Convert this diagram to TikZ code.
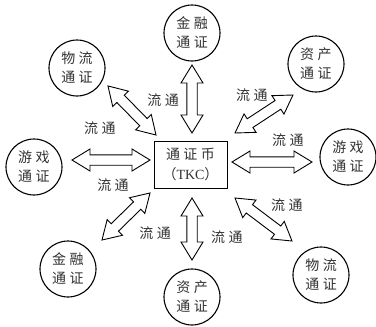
\documentclass[tikz,border=0pt]{standalone}
\usepackage{fontspec}
\setmainfont{Liberation Serif}
\newfontfamily\cjk{Noto Sans CJK SC}
\usetikzlibrary{calc}
\newcommand\zgap{\hspace{3.5pt}}
\tikzset{
  hw/.initial=11pt, sw/.initial=5.2pt, hl/.initial=18pt,
  dblarr/.style={draw=black, fill=white, line width=0.9pt, line join=miter,
    to path={
      ($(\tikztostart)!\pgfkeysvalueof{/tikz/hl}!(\tikztotarget)!\pgfkeysvalueof{/tikz/hw}!90:(\tikztotarget)$) --
      ($(\tikztostart)!\pgfkeysvalueof{/tikz/hl}!(\tikztotarget)!\pgfkeysvalueof{/tikz/sw}!90:(\tikztotarget)$) --
      ($(\tikztotarget)!\pgfkeysvalueof{/tikz/hl}!(\tikztostart)!\pgfkeysvalueof{/tikz/sw}!270:(\tikztostart)$) --
      ($(\tikztotarget)!\pgfkeysvalueof{/tikz/hl}!(\tikztostart)!\pgfkeysvalueof{/tikz/hw}!270:(\tikztostart)$) --
      (\tikztotarget) --
      ($(\tikztotarget)!\pgfkeysvalueof{/tikz/hl}!(\tikztostart)!\pgfkeysvalueof{/tikz/hw}!90:(\tikztostart)$) --
      ($(\tikztotarget)!\pgfkeysvalueof{/tikz/hl}!(\tikztostart)!\pgfkeysvalueof{/tikz/sw}!90:(\tikztostart)$) --
      ($(\tikztostart)!\pgfkeysvalueof{/tikz/hl}!(\tikztotarget)!\pgfkeysvalueof{/tikz/sw}!270:(\tikztotarget)$) --
      ($(\tikztostart)!\pgfkeysvalueof{/tikz/hl}!(\tikztotarget)!\pgfkeysvalueof{/tikz/hw}!270:(\tikztotarget)$) --
      (\tikztostart) -- cycle}},
  token/.style={circle, draw=black, line width=1.1pt, minimum size=56pt, inner sep=0pt,
    align=center, font=\cjk\fontsize{14pt}{19pt}\selectfont, text=black!80},
  coin/.style={rectangle, draw=black, line width=1pt, minimum width=73pt, minimum height=47pt,
    inner sep=0pt, align=center, font=\fontsize{14pt}{20pt}\selectfont, text=black!80},
  flow/.style={font=\cjk\fontsize{14pt}{16pt}\selectfont, text=black!80, inner sep=0pt}
}
\begin{document}
\begin{tikzpicture}[x=1pt,y=-1pt]
\useasboundingbox (0,0) rectangle (376,327);
\fill[white] (0,0) rectangle (376,327);

\node[coin] (tkc) at (190.5,164.5) {{\cjk 通\zgap{}证\zgap{}币}\\{\cjk （}TKC{\cjk ）}};

\node[token] (jrT)  at (192,33)  {金\zgap{}融\\通\zgap{}证};
\node[token] (wlTL) at (77,68)   {物\zgap{}流\\通\zgap{}证};
\node[token] (zcTR) at (316,64)  {资\zgap{}产\\通\zgap{}证};
\node[token] (yxL)  at (34,167)  {游\zgap{}戏\\通\zgap{}证};
\node[token] (yxR)  at (348,157) {游\zgap{}戏\\通\zgap{}证};
\node[token] (jrBL) at (68,269)  {金\zgap{}融\\通\zgap{}证};
\node[token] (zcB)  at (192,297) {资\zgap{}产\\通\zgap{}证};
\node[token] (wlBR) at (321,275) {物\zgap{}流\\通\zgap{}证};

\coordinate (aT1) at (192,65);  \coordinate (aT2) at (192,133);
\coordinate (aB1) at (192,198); \coordinate (aB2) at (192,260);
\coordinate (aL1) at (72,160);  \coordinate (aL2) at (150,160);
\coordinate (aR1) at (232,162); \coordinate (aR2) at (312,162);
\coordinate (aTL1) at (108,86); \coordinate (aTL2) at (156,135);
\coordinate (aTR1) at (293,95); \coordinate (aTR2) at (235,133);
\coordinate (aBL1) at (150,193); \coordinate (aBL2) at (102,240);
\coordinate (aBR1) at (235,198); \coordinate (aBR2) at (292,241);

\draw[dblarr] (aT1) to (aT2);
\draw[dblarr] (aB1) to (aB2);
\draw[dblarr] (aL1) to (aL2);
\draw[dblarr] (aR1) to (aR2);
\draw[dblarr] (aTL1) to (aTL2);
\draw[dblarr] (aTR1) to (aTR2);
\draw[dblarr] (aBL1) to (aBL2);
\draw[dblarr] (aBR1) to (aBR2);

\node[flow] (f1) at (163,100) {流\zgap{}通};
\node[flow] (f2) at (100,128) {流\zgap{}通};
\node[flow] (f3) at (113,185) {流\zgap{}通};
\node[flow] (f4) at (155,233) {流\zgap{}通};
\node[flow] (f5) at (227,237) {流\zgap{}通};
\node[flow] (f6) at (287,205) {流\zgap{}通};
\node[flow] (f7) at (288,140) {流\zgap{}通};
\node[flow] (f8) at (252,95)  {流\zgap{}通};
\end{tikzpicture}
\end{document}
